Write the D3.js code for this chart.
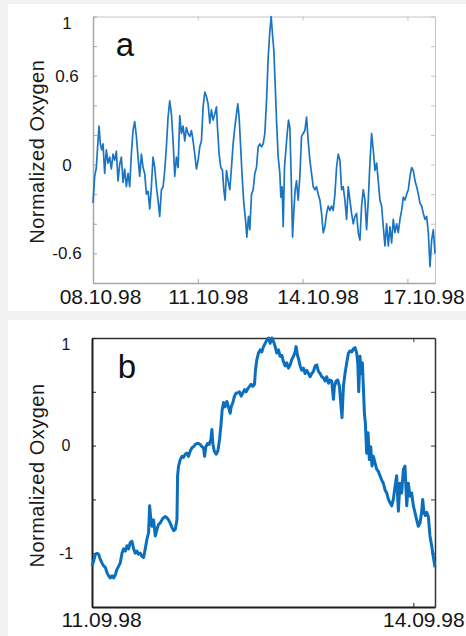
<!DOCTYPE html>
<html>
<head>
<meta charset="utf-8">
<script src="https://cdn.jsdelivr.net/npm/d3@7"></script>
<style>
  body { margin: 0; background: #f1f2f4; }
  svg { display: block; font-family: "Liberation Sans", Arial, sans-serif; }
</style>
</head>
<body>
<svg id="chart" width="466" height="636"></svg>
<script>
// panel a: 08.10.98 - 17.10.98, time in days from start
var topStart = new Date(1998, 9, 8);
var topEndDay = 9.79;
var topDays = [0, 0.048, 0.096, 0.143, 0.172, 0.21, 0.248, 0.287, 0.334, 0.382,
  0.43, 0.478, 0.525, 0.573, 0.621, 0.669, 0.716, 0.764, 0.812, 0.86,
  0.907, 0.955, 1.003, 1.051, 1.098, 1.146, 1.194, 1.242, 1.289, 1.337,
  1.385, 1.433, 1.48, 1.528, 1.576, 1.624, 1.671, 1.719, 1.767, 1.815,
  1.862, 1.91, 1.958, 2.006, 2.053, 2.101, 2.149, 2.197, 2.245, 2.292,
  2.34, 2.388, 2.436, 2.483, 2.531, 2.579, 2.627, 2.674, 2.722, 2.77,
  2.818, 2.865, 2.913, 2.961, 3.009, 3.056, 3.104, 3.152, 3.2, 3.247,
  3.295, 3.343, 3.391, 3.438, 3.486, 3.534, 3.563, 3.61, 3.658, 3.706,
  3.744, 3.782, 3.82, 3.868, 3.916, 3.964, 4.011, 4.059, 4.107, 4.145,
  4.183, 4.222, 4.269, 4.317, 4.365, 4.403, 4.451, 4.489, 4.537, 4.585,
  4.632, 4.68, 4.728, 4.776, 4.823, 4.871, 4.919, 4.967, 5.014, 5.062,
  5.1, 5.138, 5.177, 5.215, 5.253, 5.301, 5.349, 5.377, 5.415, 5.444,
  5.482, 5.521, 5.559, 5.597, 5.635, 5.673, 5.712, 5.75, 5.788, 5.826,
  5.874, 5.922, 5.969, 6.017, 6.065, 6.113, 6.16, 6.208, 6.256, 6.304,
  6.351, 6.399, 6.447, 6.495, 6.543, 6.59, 6.638, 6.686, 6.734, 6.781,
  6.829, 6.877, 6.925, 6.972, 7.02, 7.068, 7.116, 7.163, 7.211, 7.259,
  7.307, 7.354, 7.402, 7.45, 7.498, 7.545, 7.593, 7.641, 7.689, 7.736,
  7.784, 7.832, 7.88, 7.927, 7.975, 8.023, 8.071, 8.119, 8.166, 8.214,
  8.262, 8.31, 8.357, 8.405, 8.453, 8.501, 8.548, 8.596, 8.644, 8.692,
  8.739, 8.787, 8.835, 8.883, 8.93, 8.978, 9.026, 9.074, 9.121, 9.169,
  9.217, 9.265, 9.312, 9.36, 9.408, 9.456, 9.503, 9.551, 9.599, 9.647,
  9.694, 9.742, 9.79];
var topValues = [-0.26, -0.08, -0.02, 0.16, 0.26, 0.14, 0.10, 0.14, -0.06, 0.10,
  0.01, 0.05, -0.03, 0.07, 0.03, 0.09, -0.11, 0.00, 0.05, -0.12,
  -0.03, -0.15, -0.06, -0.15, 0.07, 0.23, 0.29, 0.19, 0.05, -0.08,
  0.07, -0.02, -0.06, -0.20, -0.18, -0.30, -0.15, 0.05, -0.02, -0.15,
  -0.24, -0.35, -0.17, -0.15, -0.04, 0.12, 0.32, 0.43, 0.34, 0.16,
  -0.08, 0.05, -0.02, 0.33, 0.21, 0.26, 0.16, 0.25, 0.21, 0.19,
  0.23, 0.16, 0.07, -0.03, 0.03, 0.12, 0.16, 0.39, 0.49, 0.46,
  0.41, 0.28, 0.37, 0.30, 0.34, 0.39, 0.25, 0.07, -0.02, -0.04,
  -0.17, -0.24, -0.04, -0.11, -0.17, -0.02, 0.14, 0.25, 0.34, 0.41,
  0.32, 0.14, -0.08, -0.26, -0.37, -0.49, -0.35, -0.44, -0.20, -0.17,
  -0.06, -0.02, 0.12, 0.14, 0.12, 0.14, 0.21, 0.43, 0.72, 0.90,
  1.00, 0.88, 0.77, 0.54, 0.30, 0.05, -0.06, -0.22, -0.15, -0.42,
  -0.02, 0.10, 0.21, 0.30, 0.25, -0.08, -0.49, -0.31, -0.17, -0.11,
  -0.24, -0.08, 0.19, 0.21, 0.23, 0.32, 0.16, 0.03, -0.06, -0.15,
  -0.17, -0.15, -0.20, -0.24, -0.33, -0.46, -0.42, -0.33, -0.28, -0.31,
  -0.28, -0.31, -0.20, -0.02, 0.07, 0.03, -0.17, -0.15, -0.24, -0.37,
  -0.15, -0.24, -0.33, -0.40, -0.35, -0.33, -0.46, -0.51, -0.28, -0.17,
  -0.24, -0.44, -0.24, 0.01, 0.21, 0.10, -0.04, 0.01, -0.11, -0.24,
  -0.28, -0.42, -0.55, -0.40, -0.55, -0.42, -0.53, -0.37, -0.46, -0.40,
  -0.46, -0.37, -0.31, -0.22, -0.24, -0.20, -0.17, -0.08, -0.02, -0.04,
  -0.11, -0.15, -0.20, -0.26, -0.28, -0.33, -0.37, -0.35, -0.46, -0.69,
  -0.51, -0.44, -0.60];
var topTickDays = [0, 3, 6, 9];
var topYTicks = [-0.8, -0.6, -0.4, -0.2, 0, 0.2, 0.4, 0.6, 0.8, 1];
var topYLabels = [-0.6, 0, 0.6, 1];

// panel b: 11.09.98 - 14.09.98
var bottomStart = new Date(1998, 8, 11);
var bottomEndDay = 3.202;
var bottomDays = [0, 0.016, 0.031, 0.047, 0.062, 0.078, 0.093, 0.109, 0.124, 0.14,
  0.155, 0.171, 0.187, 0.202, 0.218, 0.233, 0.249, 0.264, 0.28, 0.295,
  0.311, 0.326, 0.342, 0.357, 0.373, 0.389, 0.404, 0.42, 0.435, 0.451,
  0.466, 0.482, 0.497, 0.513, 0.528, 0.538, 0.55, 0.56, 0.575, 0.591,
  0.606, 0.622, 0.637, 0.653, 0.668, 0.684, 0.699, 0.715, 0.73, 0.746,
  0.762, 0.777, 0.793, 0.799, 0.808, 0.824, 0.839, 0.855, 0.87, 0.886,
  0.901, 0.917, 0.933, 0.948, 0.964, 0.979, 0.995, 1.01, 1.026, 1.041,
  1.051, 1.063, 1.079, 1.094, 1.11, 1.119, 1.128, 1.141, 1.159, 1.175,
  1.191, 1.203, 1.215, 1.228, 1.243, 1.259, 1.274, 1.29, 1.299, 1.315,
  1.33, 1.346, 1.362, 1.377, 1.393, 1.408, 1.424, 1.439, 1.455, 1.47,
  1.486, 1.501, 1.517, 1.526, 1.539, 1.554, 1.57, 1.585, 1.601, 1.616,
  1.632, 1.648, 1.663, 1.679, 1.694, 1.71, 1.725, 1.741, 1.756, 1.772,
  1.787, 1.803, 1.818, 1.834, 1.85, 1.865, 1.881, 1.896, 1.905, 1.918,
  1.93, 1.943, 1.958, 1.974, 1.989, 2.005, 2.021, 2.036, 2.052, 2.067,
  2.083, 2.098, 2.114, 2.129, 2.145, 2.16, 2.176, 2.191, 2.207, 2.223,
  2.238, 2.254, 2.263, 2.279, 2.294, 2.31, 2.325, 2.334, 2.347, 2.362,
  2.378, 2.394, 2.409, 2.425, 2.44, 2.456, 2.471, 2.481, 2.49, 2.502,
  2.512, 2.524, 2.533, 2.543, 2.552, 2.564, 2.577, 2.589, 2.602, 2.614,
  2.627, 2.642, 2.658, 2.673, 2.689, 2.704, 2.72, 2.735, 2.751, 2.767,
  2.782, 2.798, 2.813, 2.829, 2.844, 2.86, 2.875, 2.891, 2.907, 2.922,
  2.938, 2.953, 2.969, 2.984, 3, 3.015, 3.031, 3.046, 3.062, 3.077,
  3.087, 3.099, 3.112, 3.124, 3.14, 3.155, 3.171, 3.186, 3.202];
var bottomValues = [-1.12, -1.07, -1.01, -1.00, -1.01, -1.06, -1.09, -1.12, -1.13, -1.18,
  -1.21, -1.23, -1.21, -1.23, -1.20, -1.15, -1.12, -1.09, -1.00, -0.96,
  -0.98, -0.93, -0.96, -0.90, -0.89, -0.96, -1.00, -0.98, -1.01, -1.00,
  -1.03, -1.04, -0.96, -0.87, -0.81, -0.56, -0.69, -0.75, -0.69, -0.84,
  -0.78, -0.73, -0.72, -0.69, -0.67, -0.66, -0.67, -0.69, -0.72, -0.76,
  -0.79, -0.78, -0.69, -0.28, -0.19, -0.13, -0.10, -0.11, -0.08, -0.07,
  -0.10, -0.05, -0.02, -0.01, 0.01, 0.02, 0.02, 0.01, -0.01, -0.02,
  -0.10, -0.01, 0.02, 0.01, 0.06, 0.15, 0.02, -0.05, -0.08, -0.05,
  0.06, 0.18, 0.33, 0.40, 0.36, 0.41, 0.36, 0.30, 0.36, 0.40,
  0.46, 0.49, 0.49, 0.50, 0.46, 0.49, 0.52, 0.50, 0.53, 0.55,
  0.57, 0.55, 0.57, 0.70, 0.80, 0.86, 0.89, 0.87, 0.92, 0.95,
  0.98, 1.00, 0.95, 1.00, 0.97, 0.92, 0.86, 0.89, 0.83, 0.84,
  0.78, 0.74, 0.77, 0.72, 0.75, 0.80, 0.83, 0.87, 0.92, 0.84,
  0.80, 0.74, 0.70, 0.72, 0.67, 0.70, 0.67, 0.64, 0.67, 0.69,
  0.74, 0.75, 0.69, 0.67, 0.64, 0.63, 0.60, 0.64, 0.58, 0.61,
  0.60, 0.43, 0.55, 0.60, 0.61, 0.55, 0.36, 0.26, 0.55, 0.67,
  0.77, 0.86, 0.88, 0.87, 0.90, 0.91, 0.86, 0.77, 0.50, 0.83,
  0.67, 0.77, 0.55, 0.30, 0.21, -0.07, 0.12, -0.13, -0.01, -0.19,
  -0.10, -0.16, -0.22, -0.24, -0.28, -0.32, -0.35, -0.41, -0.44, -0.50,
  -0.53, -0.56, -0.50, -0.38, -0.28, -0.61, -0.35, -0.44, -0.22, -0.19,
  -0.56, -0.35, -0.47, -0.44, -0.56, -0.62, -0.69, -0.75, -0.72, -0.62,
  -0.50, -0.62, -0.65, -0.62, -0.66, -0.84, -0.93, -1.03, -1.13];
var bottomTickDays = [0, 3];
var bottomYTicks = [-1.5, -1, -0.5, 0, 0.5, 1];
var bottomYLabels = [-1, 0, 1];

var svg = d3.select("#chart");
var dayMs = 864e5;
var fmtDate = d3.timeFormat("%d.%m.%y");

function toDate(start, d) {
  return new Date(start.getTime() + d * dayMs);
}

// white panels on the grey page
svg.append("rect").attr("x", 8).attr("y", 4).attr("width", 458).attr("height", 307).attr("fill", "#fff");
svg.append("rect").attr("x", 8).attr("y", 320).attr("width", 458).attr("height", 316).attr("fill", "#fff");

function drawPanel(p) {
  var x = d3.scaleTime()
    .domain([p.start, toDate(p.start, p.endDay)])
    .range([p.left, p.right]);
  var y = d3.scaleLinear()
    .domain(p.yDomain)
    .range([p.bottom, p.top]);
  var xTicks = p.tickDays.map(function(d) { return toDate(p.start, d); });

  var g = svg.append("g");

  // frame: top and right axes without labels
  g.append("g")
    .attr("transform", "translate(0," + p.top + ")")
    .call(d3.axisTop(x).tickValues(xTicks).tickSizeInner(-4).tickSizeOuter(0).tickFormat(""))
    .call(styleAxis, p.frameColor, p.frameWidth);
  g.append("g")
    .attr("transform", "translate(" + p.right + ",0)")
    .call(d3.axisRight(y).tickValues(p.yTicks).tickSizeInner(-4).tickSizeOuter(0).tickFormat(""))
    .call(styleAxis, p.frameColor, p.frameWidth);

  // left axis
  var yAxis = g.append("g")
    .attr("transform", "translate(" + p.left + ",0)")
    .call(d3.axisLeft(y).tickValues(p.yTicks).tickSizeInner(-4).tickSizeOuter(0)
      .tickFormat(function(d) { return p.yLabels.indexOf(d) >= 0 ? String(d) : ""; }))
    .call(styleAxis, p.axisColor, p.axisWidth);
  yAxis.attr("text-anchor", "middle").attr("font-size", p.yFont);
  yAxis.selectAll("text")
    .attr("x", -26)
    .attr("dy", function(d) { return d === p.yDomain[1] ? p.topLabelDy : "0.32em"; });

  // bottom axis
  var xAxis = g.append("g")
    .attr("transform", "translate(0," + p.bottom + ")")
    .call(d3.axisBottom(x).tickValues(xTicks).tickSizeInner(-4).tickSizeOuter(0).tickFormat(fmtDate))
    .call(styleAxis, p.axisColor, p.axisWidth);
  xAxis.attr("font-size", 21);
  xAxis.selectAll("text")
    .attr("y", p.xLabelY)
    .attr("dy", 0)
    .attr("dx", function(d, i) { return p.labelShift[i]; });

  g.selectAll("text").attr("fill", "#151515").attr("font-family", null);

  // data line
  var line = d3.line()
    .x(function(d) { return x(toDate(p.start, d[0])); })
    .y(function(d) { return y(d[1]); });
  g.append("path")
    .datum(d3.zip(p.days, p.values))
    .attr("d", line)
    .attr("fill", "none")
    .attr("stroke", p.lineColor)
    .attr("stroke-width", p.lineWidth)
    .attr("stroke-linejoin", "round");

  // panel letter
  g.append("text")
    .attr("x", p.letterX)
    .attr("y", p.letterY)
    .attr("text-anchor", "middle")
    .attr("font-size", 33)
    .attr("fill", "#111")
    .text(p.letter);

  // y title
  g.append("text")
    .attr("transform", "translate(44," + ((p.top + p.bottom) / 2 + p.titleShift) + ") rotate(-90)")
    .attr("text-anchor", "middle")
    .attr("font-size", 20)
    .attr("letter-spacing", 0.5)
    .attr("fill", "#1a1a1a")
    .text("Normalized Oxygen");
}

function styleAxis(sel, color, width) {
  sel.select(".domain").attr("stroke", color).attr("stroke-width", width);
  sel.selectAll(".tick line").attr("stroke", color).attr("stroke-width", 1);
}

drawPanel({
  start: topStart, endDay: topEndDay, days: topDays, values: topValues,
  tickDays: topTickDays, yTicks: topYTicks, yLabels: topYLabels,
  yDomain: [-0.8, 1],
  left: 93, right: 435, top: 16.5, bottom: 283,
  axisColor: "#a6a6a6", axisWidth: 1.5, frameColor: "#c4c4c4", frameWidth: 1,
  yFont: 17, topLabelDy: "0.68em", xLabelY: 21, labelShift: [7, 10, 15, 16],
  lineColor: "#1b75c3", lineWidth: 1.7,
  letter: "a", letterX: 125, letterY: 56, titleShift: 2
});

drawPanel({
  start: bottomStart, endDay: bottomEndDay, days: bottomDays, values: bottomValues,
  tickDays: bottomTickDays, yTicks: bottomYTicks, yLabels: bottomYLabels,
  yDomain: [-1.5, 1],
  left: 92, right: 435, top: 338, bottom: 607,
  axisColor: "#1e1e1e", axisWidth: 2, frameColor: "#333", frameWidth: 1.5,
  yFont: 16, topLabelDy: "0.7em", xLabelY: 20, labelShift: [9, 10],
  lineColor: "#0c6fbe", lineWidth: 3,
  letter: "b", letterX: 127, letterY: 378, titleShift: 3
});
</script>
</body>
</html>
